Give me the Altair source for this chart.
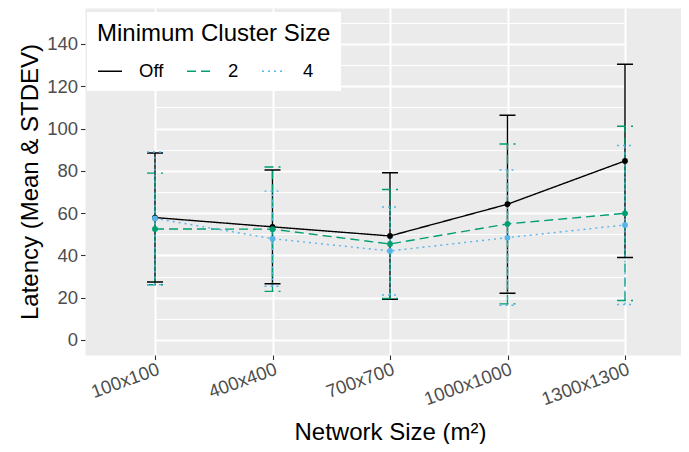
import altair as alt
import pandas as pd

sizes = ["100x100", "400x400", "700x700", "1000x1000", "1300x1300"]
series = ["Off", "2", "4"]
colors = ["#000000", "#009E73", "#56B4E9"]
dashes = [[1, 0], [9, 5], [2, 4]]

mean_off = [57.9, 53.5, 49.2, 64.2, 84.7]
sd_off = [30.5, 26.9, 29.9, 42.1, 45.7]
mean_2 = [52.5, 52.4, 45.4, 54.9, 59.9]
sd_2 = [26.4, 29.4, 25.8, 37.8, 41.2]
mean_4 = [57.5, 47.9, 42.1, 48.4, 54.4]
sd_4 = [31.4, 22.5, 20.8, 32.0, 37.6]

major_ticks = [0, 20, 40, 60, 80, 100, 120, 140]
minor_ticks = [10, 30, 50, 70, 90, 110, 130, 150]

rows = []
for k, (name, means, sds) in enumerate(zip(series, [mean_off, mean_2, mean_4], [sd_off, sd_2, sd_4])):
    for s, m, d in zip(sizes, means, sds):
        rows.append(dict(size=s, series=name, k=k, mean=m, lower=m - d, upper=m + d))
df = pd.DataFrame(rows)

FONT = "Liberation Sans"
TITLE = 24
LABEL = 18.5

xscale = alt.Scale(type="point", range=[70, 540], padding=0)
yscale = alt.Scale(domain=[-7.1, 157.0], nice=False, zero=False)

x_axis = alt.Axis(
    title="Network Size (m²)", titleFontSize=TITLE, titleFontWeight="normal", titleColor="#000000",
    titleFont=FONT, titlePadding=12,
    labelAngle=340, labelAlign="right", labelBaseline="top", labelFontSize=LABEL,
    labelColor="#4D4D4D", labelFont=FONT, labelPadding=0,
    tickColor="#333333", tickSize=4.5, tickWidth=1.1, domain=False,
    grid=True, gridColor="#FFFFFF", gridWidth=2,
)
y_axis = alt.Axis(
    title="Latency (Mean & STDEV)", titleFontSize=TITLE, titleFontWeight="normal", titleColor="#000000",
    titleFont=FONT, titlePadding=4, orient="left",
    values=major_ticks, labelFontSize=LABEL, labelColor="#4D4D4D", labelFont=FONT, labelPadding=3,
    tickColor="#333333", tickSize=4.5, tickWidth=1.1, domain=False,
    grid=True, gridColor="#FFFFFF", gridWidth=2,
)
y_minor = alt.Axis(
    title=None, orient="left", values=minor_ticks, labels=False, ticks=False, domain=False,
    grid=True, gridColor="#FFFFFF", gridWidth=1,
)

legend = alt.Legend(
    title="Minimum Cluster Size", orient="none", legendX=2, legendY=4, direction="horizontal",
    fillColor="#FFFFFF", padding=10, titleFontSize=TITLE, titleFontWeight="normal", titleColor="#000000",
    titleFont=FONT, titlePadding=12, titleLimit=500, labelLimit=200,
    labelFontSize=LABEL, labelColor="#000000", labelFont=FONT,
    symbolType="stroke", symbolSize=576, symbolStrokeWidth=1.4, columnPadding=20, labelOffset=16,
)

color = alt.Color("series:N", scale=alt.Scale(domain=series, range=colors), legend=legend)
dash = alt.StrokeDash("series:N", scale=alt.Scale(domain=series, range=dashes), legend=legend)
order = alt.Order("k:Q")
X = alt.X("size:N", sort=sizes, scale=xscale, axis=x_axis)

base = alt.Chart(df)

minor = base.mark_point(opacity=0).encode(
    x=X,
    y=alt.Y("mean:Q", scale=yscale, axis=y_minor),
)
lines = base.mark_line(strokeWidth=1.4).encode(
    x=X,
    y=alt.Y("mean:Q", scale=yscale, axis=y_axis),
    color=color, strokeDash=dash, detail="k:N",
)
vbars = base.mark_rule(strokeWidth=1.4).encode(
    x=X,
    y=alt.Y("lower:Q", scale=yscale, axis=None),
    y2="upper:Q",
    color=color, strokeDash=dash, order=order,
)
cap_lo = base.mark_rule(strokeWidth=1.4, xOffset=-8, x2Offset=8).encode(
    x=X,
    x2="size:N",
    y=alt.Y("lower:Q", scale=yscale, axis=None),
    color=color, strokeDash=dash, order=order,
)
cap_hi = base.mark_rule(strokeWidth=1.4, xOffset=-8, x2Offset=8).encode(
    x=X,
    x2="size:N",
    y=alt.Y("upper:Q", scale=yscale, axis=None),
    color=color, strokeDash=dash, order=order,
)
points = base.mark_circle(size=34, opacity=1).encode(
    x=X,
    y=alt.Y("mean:Q", scale=yscale, axis=None),
    color=color, order=order,
)

chart = alt.layer(minor, lines, vbars, cap_lo, cap_hi, points).resolve_axis(y="independent").properties(
    width=596, height=347,
    autosize=alt.AutoSizeParams(type="none"),
    padding={"left": 77, "top": 0, "right": 0, "bottom": 89},
).configure(
    font=FONT,
    view=alt.ViewConfig(fill="#EBEBEB", stroke="transparent"),
)

chart.save("out.html", embed_options={"renderer": "svg", "actions": False})
